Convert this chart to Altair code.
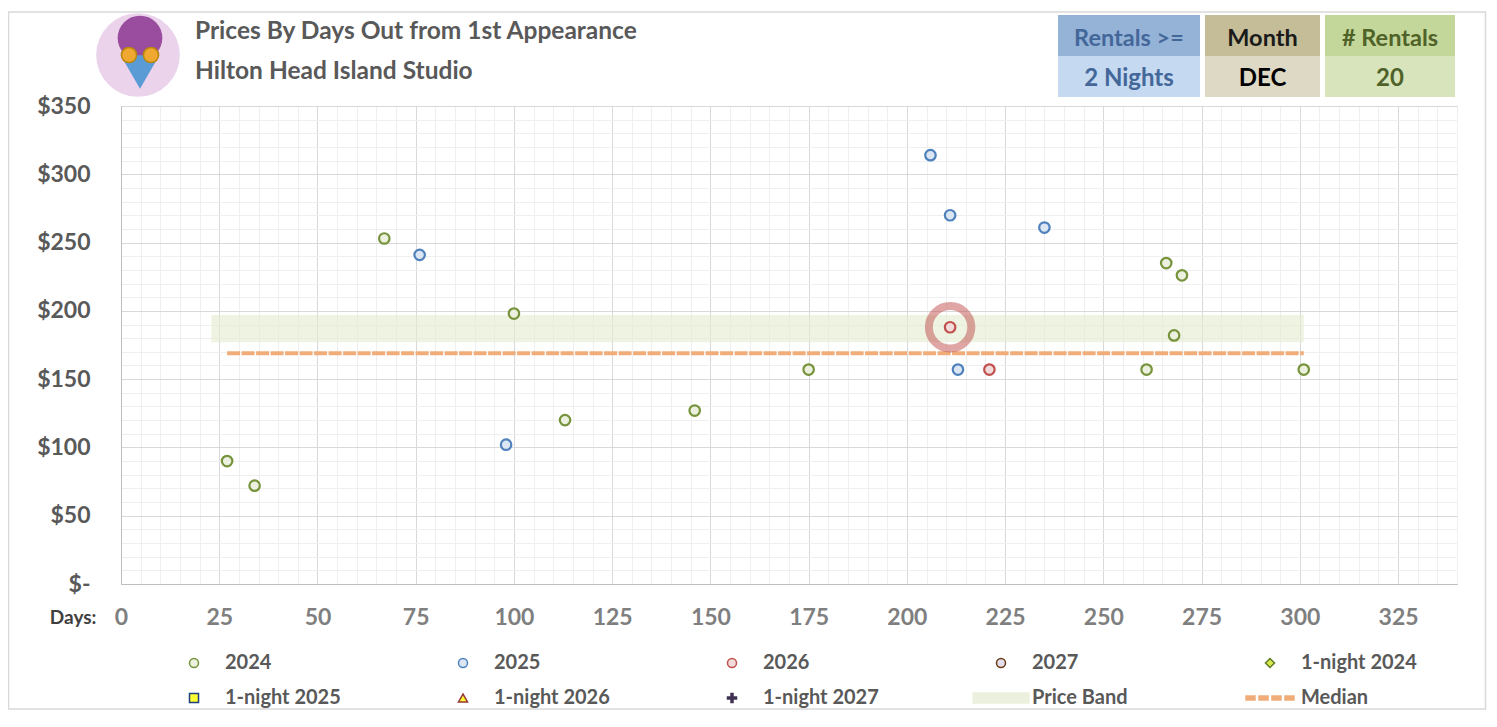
import altair as alt
import pandas as pd

# ---------------- data ----------------
days_2024 = [27, 34, 67, 100, 113, 146, 175, 261, 266, 268, 270, 301]
price_2024 = [90, 72, 253, 198, 120, 127, 157, 157, 235, 182, 226, 157]
days_2025 = [76, 98, 206, 211, 213, 235]
price_2025 = [241, 102, 314, 270, 157, 261]
days_2026 = [211, 221]
price_2026 = [188, 157]

highlight_day = [211]
highlight_price = [188]

band_days = [23, 301]
band_prices = [177, 197]
median_days = [27, 301]
median_price = [169]

series_names = ["2024", "2025", "2026", "2027", "1-night 2024",
                "1-night 2025", "1-night 2026", "1-night 2027", "Price Band", "Median"]

x_ticks = list(range(0, 326, 25))
y_ticks = list(range(0, 351, 50))

title_lines = ["Prices By Days Out from 1st Appearance", "Hilton Head Island Studio"]
header_labels = ["Rentals >=", "Month", "# Rentals"]
header_values = ["2 Nights", "DEC", "20"]

# ---------------- styles ----------------
FONT = "Lato"
series_shapes = [
    "circle", "circle", "circle", "circle", "diamond",
    "square", "triangle-up",
    "M-0.22,-1H0.22V-0.22H1V0.22H0.22V1H-0.22V0.22H-1V-0.22H-0.22Z",
    "M-6.2,-1.1H6.2V1.1H-6.2Z",
    "M-5.33,-0.45H-3.33V0.45H-5.33Z M-2.44,-0.45H-0.44V0.45H-2.44Z "
    "M0.44,-0.45H2.44V0.45H0.44Z M3.33,-0.45H5.33V0.45H3.33Z",
]
series_fill = ["#EBF1DE", "#DCE6F2", "#F2DCDB", "#E4DFEC", "#D9E84C",
               "#FFFF33", "#FFFF33", "#403152", "#EBF1DE", "#F0AD7A"]
series_stroke = ["#77933C", "#4F81BD", "#C0504D", "#6B3A14", "#5E7A28",
                 "#1F3F7A", "#953735", "#403152", "#EBF1DE", "#F0AD7A"]

points = pd.concat([
    pd.DataFrame({"series": "2024", "days": days_2024, "price": price_2024}),
    pd.DataFrame({"series": "2025", "days": days_2025, "price": price_2025}),
    pd.DataFrame({"series": "2026", "days": days_2026, "price": price_2026}),
], ignore_index=True)

band_df = pd.DataFrame({"start": [band_days[0]], "end": [band_days[1]],
                        "lo": [band_prices[0]], "hi": [band_prices[1]]})
median_df = pd.DataFrame({"start": [median_days[0]], "end": [median_days[1]],
                          "price": median_price})
highlight_df = pd.DataFrame({"days": highlight_day, "price": highlight_price})
one = pd.DataFrame({"k": [0]})

x_scale = alt.Scale(domain=[0, 340], nice=False, zero=False)
y_scale = alt.Scale(domain=[0, 350], nice=False)

minor_x = [v for v in range(0, 341, 5) if v % 25 != 0]
minor_y = [v for v in range(0, 351, 10) if v % 50 != 0]

# minor grid (independent axes, grid only)
minor = alt.Chart(points).mark_point(opacity=0).encode(
    x=alt.X("days:Q", scale=x_scale, axis=alt.Axis(
        orient="top", values=minor_x, grid=True, gridColor="#EFEFEF",
        labels=False, ticks=False, domain=False, title=None)),
    y=alt.Y("price:Q", scale=y_scale, axis=alt.Axis(
        orient="right", values=minor_y, grid=True, gridColor="#EFEFEF",
        labels=False, ticks=False, domain=False, title=None)),
)

band = alt.Chart(band_df).mark_rect(fill="#E2EBCF", opacity=0.6).encode(
    x=alt.X("start:Q", scale=x_scale, axis=None),
    x2="end:Q",
    y=alt.Y("lo:Q", scale=y_scale, axis=None),
    y2="hi:Q",
)

median = alt.Chart(median_df).mark_rule(
    color="#F0AD7A", strokeWidth=4, strokeDash=[13, 1.5], strokeCap="butt"
).encode(
    x=alt.X("start:Q", scale=x_scale, axis=None),
    x2="end:Q",
    y=alt.Y("price:Q", scale=y_scale, axis=None),
)

ring = alt.Chart(highlight_df).mark_point(
    shape="circle", size=1800, filled=False, stroke="#C0504D",
    strokeWidth=8, opacity=0.5
).encode(
    x=alt.X("days:Q", scale=x_scale, axis=None),
    y=alt.Y("price:Q", scale=y_scale, axis=None),
)

scatter = alt.Chart(points).mark_point(
    filled=True, size=110, strokeWidth=2.2, opacity=1
).encode(
    x=alt.X("days:Q", scale=x_scale, axis=alt.Axis(
        orient="bottom", values=x_ticks, grid=True, gridColor="#D9D9D9",
        domainColor="#BFBFBF", ticks=False, labelPadding=33,
        labelBaseline="middle", labelFlush=False, labelFont=FONT,
        labelFontSize=23, labelFontWeight="bold", labelColor="#7F7F7F",
        title="Days:", titleX=-25, titleY=33, titleAlign="right",
        titleBaseline="middle", titleFont=FONT, titleFontSize=19,
        titleFontWeight="bold", titleColor="#404040")),
    y=alt.Y("price:Q", scale=y_scale, axis=alt.Axis(
        orient="left", values=y_ticks, grid=True, gridColor="#D9D9D9",
        domainColor="#BFBFBF", ticks=False, labelPadding=31,
        labelFlush=False, labelOverlap=False, labelFont=FONT,
        labelFontSize=23, labelFontWeight="bold", labelColor="#595959",
        labelExpr="datum.value == 0 ? '$-\u00a0\u00a0\u00a0' : '$' + datum.value",
        title=None)),
    shape=alt.Shape("series:N", scale=alt.Scale(domain=series_names, range=series_shapes),
                    legend=alt.Legend(title=None)),
    fill=alt.Fill("series:N", scale=alt.Scale(domain=series_names, range=series_fill),
                  legend=alt.Legend(title=None)),
    stroke=alt.Stroke("series:N", scale=alt.Scale(domain=series_names, range=series_stroke),
                      legend=alt.Legend(title=None)),
)

# ---------------- header decorations ----------------
deco = []
# outer frame
deco.append(alt.Chart(one).mark_rect(fill="transparent", stroke="#D9D9D9", strokeWidth=1.5).encode(
    x=alt.value(-112.5), x2=alt.value(1364.5), y=alt.value(-94), y2=alt.value(603)))
# logo
deco.append(alt.Chart(one).mark_point(shape="circle", filled=True, size=7000, color="#EBD3EC", opacity=1).encode(
    x=alt.value(17), y=alt.value(-51)))
deco.append(alt.Chart(one).mark_point(shape="circle", filled=True, size=2000, color="#9A4C9E", opacity=1).encode(
    x=alt.value(19), y=alt.value(-68)))
deco.append(alt.Chart(one).mark_point(shape="triangle-down", filled=True, size=1500, color="#5B9BD5", opacity=1).encode(
    x=alt.value(19), y=alt.value(-34)))
for gx in [8, 30]:
    deco.append(alt.Chart(one).mark_point(shape="circle", filled=True, size=230, color="#F0A830",
                                          stroke="#B8860B", strokeWidth=1.5, opacity=1).encode(
        x=alt.value(gx), y=alt.value(-51)))
# title lines
for line, ty in zip(title_lines, [-74, -34]):
    deco.append(alt.Chart(one).mark_text(text=line, align="left", baseline="middle", font=FONT,
                                         fontSize=24.5, fontWeight="bold", color="#595959").encode(
        x=alt.value(74), y=alt.value(ty)))
# boxes
box_x = [(937, 1079), (1084, 1199), (1204, 1334)]
box_top = ["#95B3D7", "#C4BD97", "#C4D79B"]
box_bot = ["#C5D9F1", "#DDD9C4", "#D8E4BC"]
box_txt = ["#44679A", "#1A1A1A", "#4F6228"]
box_val_txt = ["#44679A", "#000000", "#4F6228"]
for (x0, x1), ct, cb, tc, vc, lab, val in zip(box_x, box_top, box_bot, box_txt, box_val_txt,
                                               header_labels, header_values):
    deco.append(alt.Chart(one).mark_rect(fill=ct).encode(
        x=alt.value(x0), x2=alt.value(x1), y=alt.value(-91), y2=alt.value(-50)))
    deco.append(alt.Chart(one).mark_rect(fill=cb).encode(
        x=alt.value(x0), x2=alt.value(x1), y=alt.value(-50), y2=alt.value(-9)))
    deco.append(alt.Chart(one).mark_text(text=lab, align="center", baseline="middle", font=FONT,
                                         fontSize=23.5, fontWeight="bold", color=tc).encode(
        x=alt.value((x0 + x1) / 2), y=alt.value(-67)))
    deco.append(alt.Chart(one).mark_text(text=val, align="center", baseline="middle", font=FONT,
                                         fontSize=24, fontWeight="bold", color=vc).encode(
        x=alt.value((x0 + x1) / 2), y=alt.value(-27)))

chart = alt.layer(minor, band, median, ring, scatter, *deco).resolve_axis(
    x="independent", y="independent"
).properties(
    width=1336, height=478,
    autosize=alt.AutoSizeParams(type="none"),
    padding={"left": 113, "top": 98, "right": 30, "bottom": 126},
    background="white",
).configure_view(
    stroke="#D9D9D9", strokeWidth=1
).configure_legend(
    orient="none", legendX=63, legendY=547, columns=5, direction="horizontal",
    gridAlign="all", columnPadding=91, rowPadding=15, padding=0,
    labelFont=FONT, labelFontSize=20, labelFontWeight="bold", labelColor="#595959",
    labelOffset=21, labelLimit=300, symbolStrokeWidth=1.5, symbolSize=81,
)

chart.save("out.html", embed_options={"renderer": "svg", "actions": False})
